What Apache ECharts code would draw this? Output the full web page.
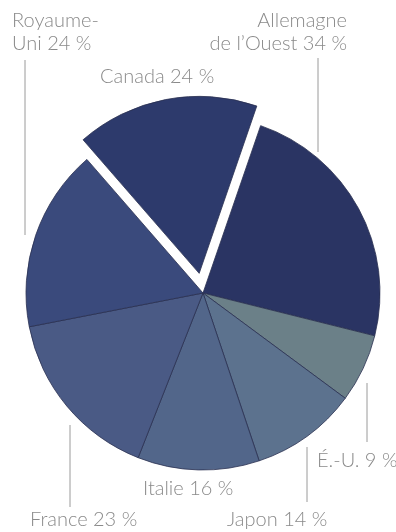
<!DOCTYPE html>
<html>
<head>
<meta charset="utf-8">
<title>Pie</title>
<script src="https://cdn.jsdelivr.net/npm/echarts@6/dist/echarts.min.js"></script>
<style>
  html, body { margin: 0; padding: 0; background: #fff; }
  #pie { width: 396px; height: 532px; }
</style>
</head>
<body>
<div id="pie"></div>
<script>
// données (sens horaire à partir de l'Allemagne)
var countries = ["Allemagne\nde l\u2019Ouest", "É.-U.", "Japon", "Italie", "France", "Royaume-\nUni", "Canada"];
var shares = [34, 9, 14, 16, 23, 24, 24];
var sliceColors = ["#2a3463", "#6b8088", "#5c728e", "#52668a", "#4a5a85", "#3a4a7c", "#2d3a6c"];

// position des étiquettes (bord gauche ou droit, milieu vertical) et traits de rappel (px)
var labelPos = [
  { x: 347, y: 32, align: "right", line: [318, 58, 318, 152] },
  { x: 317, y: 461, align: "left", line: [367, 383, 367, 442] },
  { x: 227, y: 520, align: "left", line: [307, 447, 307, 502] },
  { x: 143, y: 489, align: "left", line: null },
  { x: 30, y: 520, align: "left", line: [70, 425, 70, 507] },
  { x: 12, y: 32, align: "left", line: [25, 60, 25, 235] },
  { x: 100, y: 77, align: "left", line: null }
];

var pieData = countries.map(function (name, i) {
  return {
    name: name,
    value: shares[i],
    selected: name === "Canada",
    itemStyle: { color: sliceColors[i] }
  };
});

// étiquettes et traits de rappel
var labelGraphics = [];
countries.forEach(function (name, i) {
  var p = labelPos[i];
  labelGraphics.push({
    type: "text",
    silent: true,
    style: {
      text: name + " " + shares[i] + " %",
      x: p.x,
      y: p.y,
      textAlign: p.align,
      textVerticalAlign: "middle",
      fill: "#8a8a8a",
      font: "300 20px Lato",
      lineHeight: 23
    }
  });
  if (p.line) {
    labelGraphics.push({
      type: "line",
      silent: true,
      shape: { x1: p.line[0], y1: p.line[1], x2: p.line[2], y2: p.line[3] },
      style: { stroke: "#9a9a9a", lineWidth: 1 }
    });
  }
});

var myChart = echarts.init(document.getElementById("pie"));
myChart.setOption({
  animation: false,
  graphic: labelGraphics,
  series: [
    {
      type: "pie",
      center: [203, 293],
      radius: 177,
      startAngle: 71,
      clockwise: true,
      selectedMode: "single",
      selectedOffset: 20,
      emphasis: { disabled: true },
      itemStyle: { borderColor: "#2a3050", borderWidth: 0.8 },
      label: { show: false },
      labelLine: { show: false },
      data: pieData
    }
  ]
});
</script>
</body>
</html>
